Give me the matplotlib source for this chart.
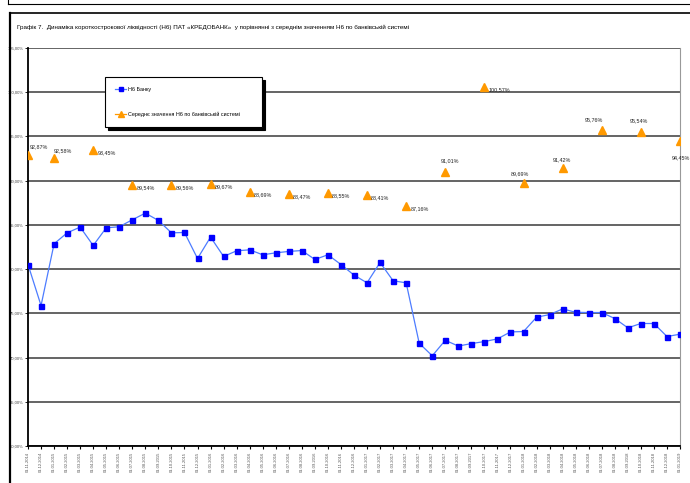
import matplotlib
matplotlib.use('Agg')
import matplotlib.pyplot as plt
import pandas as pd
from matplotlib.lines import Line2D

plt.rcParams['font.family'] = ['Liberation Sans Narrow', 'Liberation Sans', 'DejaVu Sans']

# monthly dates (guessed, labels are unreadable in the reference)
dates = pd.date_range('2014-11-01', periods=51, freq='MS')
date_labels = [d.strftime('%d.%m.%Y') for d in dates]

# Н6 банку, %
bank_n6 = [80.52, 75.88, 82.86, 84.10, 84.75, 82.67, 84.67, 84.79, 85.58, 86.33,
           85.50, 84.10, 84.14, 81.20, 83.62, 81.43, 82.07, 82.18, 81.62, 81.84,
           82.00, 82.10, 81.09, 81.62, 80.52, 79.32, 78.45, 80.75, 78.68, 78.45,
           71.62, 70.20, 71.95, 71.30, 71.58, 71.81, 72.11, 72.90, 72.94, 74.56,
           74.86, 75.50, 75.12, 75.09, 75.09, 74.41, 73.36, 73.85, 73.85, 72.38,
           72.64]

# середнє значення Н6 по банківській системі (quarterly)
sys_idx = [0, 2, 5, 8, 11, 14, 17, 20, 23, 26, 29, 32, 35, 38, 41, 44, 47, 50]
sys_n6 = [92.87, 92.58, 93.45, 89.54, 89.56, 89.67, 88.69, 88.47, 88.55, 88.41,
          87.16, 91.01, 100.57, 89.69, 91.42, 95.76, 95.54, 94.45]

# label offsets in points (style)
lbl_off = [(1, 6), (0, 5), (3, -2), (3, -2), (3, -2), (3, -2), (3, -2), (3, -2),
           (3, -2), (3, -2), (3, -2), (-3, 8), (3, -2), (-9, 7), (-7, 6), (-12, 7),
           (-8, 8), (-6, -12)]

fig = plt.figure(figsize=(6.9, 4.83), dpi=100)
ax = fig.add_axes([28 / 690, 1 - 446 / 483, 652 / 690, 398 / 483])

x = list(range(len(bank_n6)))
ax.plot(x, bank_n6, color='#4d7cff', lw=0.9, marker='s', ms=3.6,
        mfc='#0000ff', mec='#0000ff', zorder=3)
sx = [x[i] for i in sys_idx]
ax.plot(sx, sys_n6, ls='none', marker='^', ms=5.5, color='#ff9900', zorder=3)

for xi, v, (dx, dy) in zip(sx, sys_n6, lbl_off):
    ax.annotate(f'{v:.2f}%'.replace('.', ','), (xi, v), xytext=(dx, dy),
                textcoords='offset points', fontsize=3.9, color='#222222',
                ha='left', va='center')

ax.set_xlim(0, len(bank_n6) - 1)
ax.set_ylim(60, 105)
yt = list(range(60, 106, 5))
ax.set_yticks(yt)
ax.set_yticklabels([f'{v},00%' for v in yt], fontsize=3.0, color='#444444')
ax.set_xticks(x)
ax.set_xticklabels(date_labels, rotation=90, fontsize=3.0, color='#555555')
ax.tick_params(axis='y', length=2, width=0.6, pad=1)
ax.tick_params(axis='x', length=2, width=0.8, pad=2)
ax.grid(axis='y', color='#3a3a3a', lw=1.1)
ax.set_axisbelow(True)
ax.spines['top'].set_visible(False)
ax.spines['left'].set_linewidth(1.3)
ax.spines['bottom'].set_linewidth(1.3)
ax.spines['right'].set_color('#999999')
ax.spines['right'].set_linewidth(0.8)

handles = [
    Line2D([], [], color='#4d7cff', lw=0.9, marker='s', ms=3.0,
           mfc='#0000ff', mec='#0000ff'),
    Line2D([], [], color='#ff9900', lw=0.9, marker='^', ms=4.0),
]
labels = ['Н6 Банку', 'Середнє значення Н6 по банківській системі']
leg = ax.legend(handles, labels, loc='upper left',
                bbox_to_anchor=(0.118, 0.814, 0.241, 0.113), mode='expand',
                fontsize=3.9, frameon=True, fancybox=False, edgecolor='black',
                framealpha=1, shadow={'color': 'black', 'alpha': 1},
                handlelength=2.0, labelspacing=3.5, borderpad=1.9,
                borderaxespad=0, handletextpad=0.4)
leg.get_frame().set_linewidth(0.8)

fig.text(17 / 690, 1 - 27 / 483,
         'Графік 7.  Динаміка короткострокової ліквідності (Н6) ПАТ «КРЕДОБАНК»  '
         'у порівнянні з середнім значенням Н6 по банківській системі',
         fontsize=4.5, va='center', ha='left')

# outer frames
fig.add_artist(Line2D([10 / 690, 1], [1 - 13 / 483] * 2, color='black', lw=1.2))
fig.add_artist(Line2D([10 / 690] * 2, [0, 1 - 13 / 483], color='black', lw=1.6))
fig.add_artist(Line2D([8 / 690, 1], [1 - 4 / 483] * 2, color='black', lw=0.8))
fig.add_artist(Line2D([8 / 690] * 2, [1 - 4 / 483, 1], color='black', lw=0.8))

fig.savefig('out.png', dpi=100)
